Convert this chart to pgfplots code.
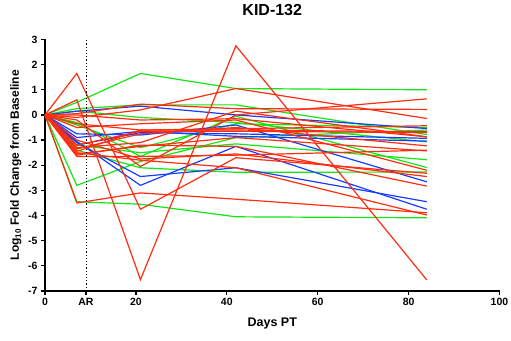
\documentclass[border=0pt]{standalone}
\usepackage{fontspec}
\setmainfont{Liberation Sans}
\usepackage{pgfplots}
\pgfplotsset{compat=1.18}
\usetikzlibrary{calc}
\definecolor{gr}{RGB}{20,230,20}
\definecolor{bl}{RGB}{25,60,255}
\definecolor{rd}{RGB}{255,45,15}
\begin{document}
\begin{tikzpicture}[x=1pt,y=1pt]
\begin{axis}[
  scale only axis, width=454.5pt, height=251.5pt,
  xmin=0, xmax=100, ymin=-7, ymax=3,
  axis lines=left, axis line style={line width=1.5pt, -},
  xtick={0,9,20,40,60,80,100}, xticklabels={0,AR,20,40,60,80,100},
  ytick={-7,-6,-5,-4,-3,-2,-1,0,1,2,3},
  tick align=outside, major tick length=4pt,
  tick style={line width=1.2pt, black},
  /pgf/number format/assume math mode=true,
  tick label style={font=\bfseries\fontsize{10.5}{11}\selectfont},
  yticklabel={\pgfmathprintnumber{\tick}},
  title={KID-132},
  title style={font=\bfseries\fontsize{16}{18}\selectfont, at={(axis description cs:0.5,1.093)}, anchor=center},
  xlabel={Days PT},
  xlabel style={font=\bfseries\fontsize{12.5}{14}\selectfont, at={(axis description cs:0.5,-0.131)}, anchor=center},
  ylabel={Log\textsubscript{10} Fold Change from Baseline},
  ylabel style={font=\bfseries\fontsize{12}{14}\selectfont, at={(axis description cs:-0.064,0.5)}, anchor=center},
  clip=false,
  every axis plot/.append style={line width=1.2pt, no marks},
]
% green series
\addplot[gr] coordinates {(0,0)(7,0.5)(21,1.65)(42,1.05)(84,1.0)};
\addplot[gr] coordinates {(0,0)(7,0.25)(21,0.4)(42,0.4)(84,-0.78)};
\addplot[gr] coordinates {(0,0)(7,0.15)(21,-0.1)(42,-0.3)(84,-1.07)};
\addplot[gr] coordinates {(0,0)(7,-2.8)(21,-1.85)(42,-0.9)(84,-0.6)};
\addplot[gr] coordinates {(0,0)(7,-3.45)(21,-3.55)(42,-4.05)(84,-4.09)};
\addplot[gr] coordinates {(0,0)(7,-1.2)(21,-1.5)(42,-1.15)(84,-1.78)};
\addplot[gr] coordinates {(0,0)(7,-1.4)(21,-2.1)(42,-2.28)(84,-2.27)};
\addplot[gr] coordinates {(0,0)(7,-0.3)(21,-1.65)(42,-0.05)(84,-2.09)};
\addplot[gr] coordinates {(0,0)(7,-0.4)(21,-1.3)(42,-0.35)(84,-0.5)};
% blue series
\addplot[bl] coordinates {(0,0)(7,0.15)(21,0.35)(42,0.0)(84,-0.54)};
\addplot[bl] coordinates {(0,0)(7,-1.05)(21,-2.8)(42,-1.25)(84,-3.75)};
\addplot[bl] coordinates {(0,0)(7,-1.1)(21,-2.45)(42,-2.1)(84,-3.45)};
\addplot[bl] coordinates {(0,0)(7,-0.75)(21,-0.8)(42,-0.4)(84,-2.66)};
\addplot[bl] coordinates {(0,0)(7,-1.2)(21,-0.7)(42,-0.75)(84,-0.93)};
\addplot[bl] coordinates {(0,0)(7,-0.9)(21,-0.65)(42,-0.85)(84,-1.04)};
% red series
\addplot[rd] coordinates {(0,0)(7,1.65)(21,-3.75)(42,-1.7)(84,-2.32)};
\addplot[rd] coordinates {(0,0)(7,0.6)(21,-6.55)(42,2.75)(84,-6.56)};
\addplot[rd] coordinates {(0,0)(7,-0.1)(21,0.2)(42,1.05)(84,-0.14)};
\addplot[rd] coordinates {(0,0)(7,-1.3)(21,-1.1)(42,0.15)(84,-0.87)};
\addplot[rd] coordinates {(0,0)(7,0.05)(21,0.43)(42,0.25)(84,0.22)};
\addplot[rd] coordinates {(0,0)(7,-0.2)(21,-2.05)(42,0.0)(84,0.64)};
\addplot[rd] coordinates {(0,0)(7,-3.5)(21,-3.1)(42,-3.35)(84,-3.89)};
\addplot[rd] coordinates {(0,0)(7,-1.5)(21,-1.8)(42,-2.1)(84,-3.98)};
\addplot[rd] coordinates {(0,0)(7,-1.6)(21,-1.2)(42,-1.25)(84,-2.83)};
\addplot[rd] coordinates {(0,0)(7,-1.45)(21,-0.6)(42,-0.55)(84,-0.43)};
\addplot[rd] coordinates {(0,0)(7,-0.35)(21,-0.6)(42,-0.6)(84,-0.67)};
\addplot[rd] coordinates {(0,0)(7,-1.35)(21,-0.75)(42,-0.5)(84,-1.23)};
\addplot[rd] coordinates {(0,0)(7,-1.55)(21,-1.25)(42,-0.9)(84,-1.43)};
\addplot[rd] coordinates {(0,0)(7,-1.65)(21,-1.65)(42,-1.6)(84,-1.4)};
\addplot[rd] coordinates {(0,0)(7,-0.5)(21,-0.35)(42,-0.2)(84,-2.2)};
\addplot[rd] coordinates {(0,0)(7,-1.0)(21,-1.75)(42,-1.55)(84,-2.45)};
\addplot[rd] coordinates {(0,0)(7,0.0)(21,-0.2)(42,-0.15)(84,-0.87)};
\addplot[rd] coordinates {(0,0)(7,-1.2)(21,-0.65)(42,-0.65)(84,-0.7)};
% AR marker line
\addplot[black, dotted, line width=0.8pt] coordinates {(9,-7)(9,3)};
\coordinate (ll) at (rel axis cs:0,0);
\coordinate (ur) at (rel axis cs:1,1);
\end{axis}
\pgfresetboundingbox
\path[use as bounding box] ($(ll)+(-45pt,-50pt)$) rectangle ($(ur)+(11.5pt,39.5pt)$);
\end{tikzpicture}
\end{document}
